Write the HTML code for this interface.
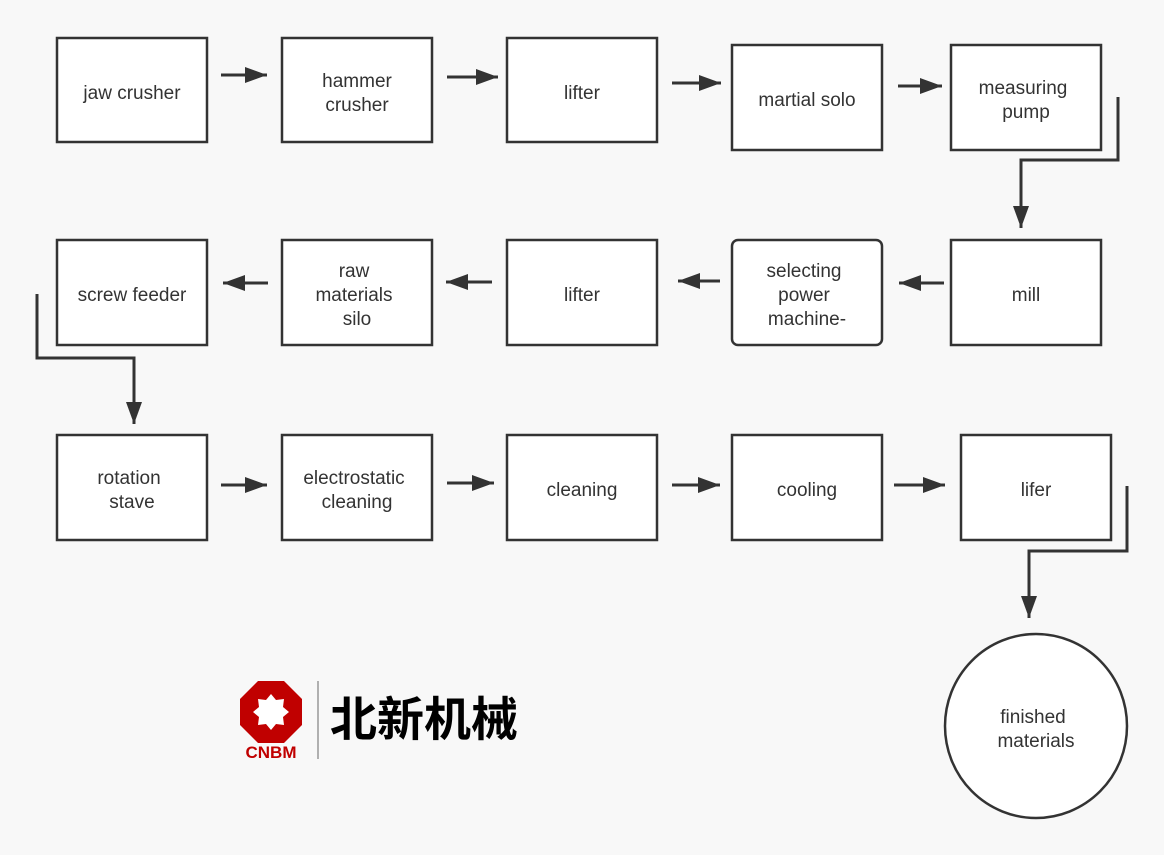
<!DOCTYPE html>
<html><head><meta charset="utf-8"><style>
html,body{margin:0;padding:0;background:#f8f8f8;}
svg{display:block}
text{font-family:"Liberation Sans","Noto Sans CJK SC",sans-serif;font-size:19px;fill:#333;text-anchor:middle}
</style></head><body>
<svg width="1164" height="855" viewBox="0 0 1164 855">
<defs><marker id="a" markerWidth="10" markerHeight="10" refX="9" refY="5" orient="auto" markerUnits="userSpaceOnUse" viewBox="0 0 10 10"><path d="M0,0 L10,5 L0,10z" fill="#333"/></marker>
<marker id="b" markerWidth="22" markerHeight="16" refX="22" refY="8" orient="auto" markerUnits="userSpaceOnUse"><path d="M0,0 L22,8 L0,16z" fill="#333"/></marker></defs>
<rect width="1164" height="855" fill="#f8f8f8"/>
<g fill="#fff" stroke="#333" stroke-width="2.5">
<rect x="57" y="38" width="150" height="104"/><rect x="282" y="38" width="150" height="104"/><rect x="507" y="38" width="150" height="104"/><rect x="732" y="45" width="150" height="105"/><rect x="951" y="45" width="150" height="105"/>
<rect x="57" y="240" width="150" height="105"/><rect x="282" y="240" width="150" height="105"/><rect x="507" y="240" width="150" height="105"/><rect x="732" y="240" width="150" height="105" rx="6"/><rect x="951" y="240" width="150" height="105"/>
<rect x="57" y="435" width="150" height="105"/><rect x="282" y="435" width="150" height="105"/><rect x="507" y="435" width="150" height="105"/><rect x="732" y="435" width="150" height="105"/><rect x="961" y="435" width="150" height="105"/>
<ellipse cx="1036" cy="726" rx="91" ry="92"/>
</g>
<g stroke="#333" stroke-width="3" fill="none" marker-end="url(#b)">
<path d="M221 75H267"/><path d="M447 77H498"/><path d="M672 83H721"/><path d="M898 86H942"/>
<path d="M1118 97V160H1021V228"/>
<path d="M268 283H223"/><path d="M492 282H446"/><path d="M720 281H678"/><path d="M944 283H899"/>
<path d="M37 294V358H134V424"/>
<path d="M221 485H267"/><path d="M447 483H494"/><path d="M672 485H720"/><path d="M894 485H945"/>
<path d="M1127 486V551H1029V618"/>
</g>
<text x="132" y="99">jaw crusher</text>
<text x="357" y="87">hammer</text><text x="357" y="111">crusher</text>
<text x="582" y="99">lifter</text>
<text x="807" y="106">martial solo</text>
<text x="1023" y="94">measuring</text><text x="1026" y="118">pump</text>
<text x="132" y="301">screw feeder</text>
<text x="354" y="277">raw</text><text x="354" y="301">materials</text><text x="357" y="325">silo</text>
<text x="582" y="301">lifter</text>
<text x="804" y="277">selecting</text><text x="804" y="301">power</text><text x="807" y="325">machine-</text>
<text x="1026" y="301">mill</text>
<text x="129" y="484">rotation</text><text x="132" y="508">stave</text>
<text x="354" y="484">electrostatic</text><text x="357" y="508">cleaning</text>
<text x="582" y="496">cleaning</text>
<text x="807" y="496">cooling</text>
<text x="1036" y="496">lifer</text>
<text x="1033" y="723">finished</text><text x="1036" y="747">materials</text>
<polygon points="258,681 284,681 302,699 302,725 284,743 258,743 240,725 240,699" fill="#c00000"/>
<polygon points="271,694 276,700 284,699 283,707 289,712 283,717 284,725 276,724 271,730 266,724 258,725 259,717 253,712 259,707 258,699 266,700" fill="#fff"/>
<text x="271" y="758" style="font-size:17px;font-weight:bold;fill:#c00000">CNBM</text>
<line x1="318" y1="681" x2="318" y2="759" stroke="#999" stroke-width="1.5"/>
<text x="424" y="736" style="font-size:47px;font-weight:bold;fill:#000;font-family:'Noto Sans CJK SC',sans-serif">北新机械</text>
</svg>
</body></html>
